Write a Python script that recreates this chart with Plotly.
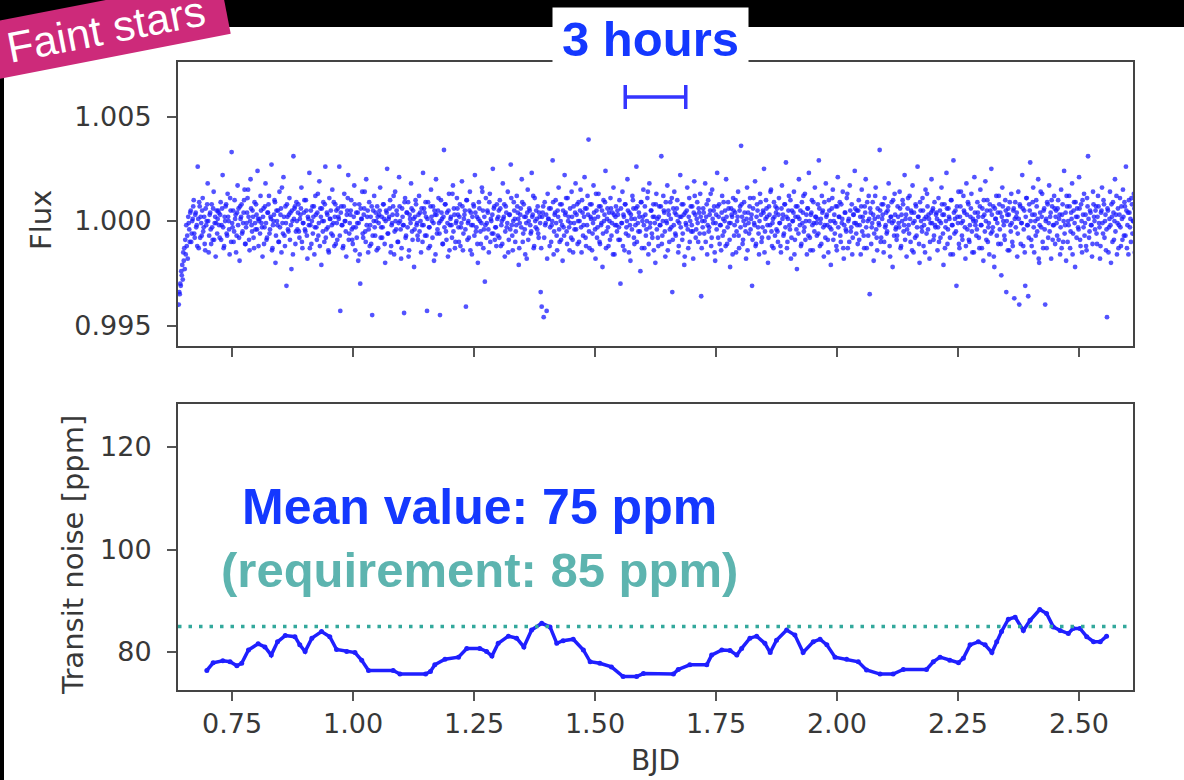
import plotly.graph_objects as go

# ---------------- data ----------------
# top panel: relative flux, in units of 1e-4 above flux_zero (two interleaved cadence sets)
flux_zero = 0.99960
flux_t0 = 0.640
flux_cadence = 0.00206
flux_rows_a = [
    [-36, -31, -27, -22, -24, -15, -19, -12, -8, -14, 3, -6, 9, -2, 5, 14, -4, 8, 2, 30, -9, 11, 6, -3, 15, 1, -7, 10, 4, 22, -11, 7, 0, 12, -5, 18, 3, -13, 9, 5],
    [8, -4, 13, 2, 26, -9, 6, 11, -2, 17, 4, -12, 9, 37, 1, -6, 14, 7, -3, 21, 10, -15, 5, 12, -1, 8, 19, -7, 3, 15, 6, -10, 24, 2, 9, -4, 13, 0, 7, 28],
    [-8, 5, 16, 3, -13, 10, 1, 22, -5, 8, 12, -2, 6, 31, -9, 4, 14, -16, 9, 2, -6, 18, 7, -11, 3, 25, -3, 11, -27, 6, -1, 15, 8, -19, 4, 35, 10, -7, 13, 0],
    [12, -4, 7, 20, -9, 3, 14, -1, 9, -14, 5, 27, 2, -7, 11, 6, -12, 16, 1, 8, -3, 23, 10, -17, 4, 13, -6, 30, 0, 7, -10, 15, 5, -2, 19, 3, -8, 12, 9, -5],
    [6, 30, -39, 11, 2, -8, 17, 4, -13, 9, 26, -2, 7, 14, -5, 1, 21, -10, 8, 3, -15, 12, -26, 5, 18, -4, 10, -1, 24, 6, -11, 13, 2, -7, -41, 9, 16, -3, 4, 11],
    [-9, 7, 20, 1, -4, 12, 5, -16, 9, 29, -2, 6, 14, -8, 3, 11, -12, 18, 0, 7, -6, 25, 4, -14, 10, 2, -40, 15, -3, 8, 13, -10, 5, 22, -1, 9, -18, 6, 12, 3],
    [-5, 16, 8, -11, 2, 27, 10, -3, 6, -39, 13, 1, -8, 19, 4, 11, -15, 7, 24, -2, 9, 3, -41, 14, 5, -7, 38, 12, -1, 8, -13, 17, 2, 6, -4, 21, 10, -9, 3, 15],
    [7, -6, 12, 1, 23, -10, 5, 9, -37, 14, 3, -4, 18, 8, -12, 2, 11, 26, -1, 6, -16, 13, 4, -7, 20, 9, 0, -25, 15, 3, 8, -11, 17, 5, -2, 29, 10, -5, 1, 12],
    [-3, 9, 14, -8, 4, 22, 6, -13, 11, 1, 18, -5, 7, 31, 2, -10, 13, 5, -1, 16, 8, -17, 3, 10, 24, -6, 12, 0, 6, -14, 19, 4, 9, -2, 27, 7, -9, 15, 1, 5],
    [11, -4, 6, -30, -37, 8, -42, 13, 3, -39, 17, 5, -8, 10, 2, 33, -12, 7, 14, -3, 9, 20, -6, 4, 12, -15, 1, 26, 8, -1, 15, 6, -10, 3, 18, -5, 11, 0, 22, 7],
    [-7, 13, 4, 19, -11, 8, 2, 25, -4, 10, 16, 43, -9, 6, 12, -2, 21, 5, -14, 9, 1, 17, -6, 11, 3, -18, 14, 7, 28, -1, 10, -8, 4, 15, -3, 8, 20, -12, 6, 2],
    [9, -5, 14, -26, 3, 18, 7, -10, 12, 1, 24, -3, 8, -15, 5, 16, 10, -7, 2, 30, 11, -1, 6, -20, 13, 4, 19, -9, 7, 0, 15, -12, 22, 3, 9, -4, 12, 6, -16, 17],
    [5, -8, 11, 2, 35, -3, 16, 8, -13, 4, 21, 9, -6, 13, 1, -30, 10, 18, -2, 7, 14, -11, 3, 26, 6, -5, 12, -17, 8, 2, 20, -9, 15, 4, -1, 11, -14, 23, 7, 0],
    [13, -6, 8, 17, -32, 4, 10, -2, 22, 6, -12, 14, 1, 9, -8, 19, 3, 11, -15, 7, 27, -4, 12, 2, -10, 16, 5, -1, 9, 24, -7, 13, 3, -18, 10, 6, 15, -3, 8, -11],
    [4, 18, -9, 11, 40, 6, -5, 13, 2, -14, 20, 8, -2, 15, 5, -27, 10, 3, 23, -7, 12, 1, -12, 17, 7, -4, 9, 29, -1, 14, 6, -16, 11, 2, 19, -8, 5, 13, -3, 8],
    [10, -6, 15, 3, -11, 21, 7, -2, 12, 32, -9, 5, 16, 0, -14, 9, 4, 18, -5, 11, -19, 6, 24, 2, -8, 13, 8, -1, 17, 4, -12, 10, 27, -4, 7, 14, -10, 3, 20, 6],
    [-3, 12, 33, -8, 5, 16, 9, -13, 2, 22, 7, -5, 14, 1, -17, 10, 19, 4, -2, 11, -10, 25, 6, 13, -6, 3, 18, -14, 8, 0, 15, -9, 5, 21, -1, 12, -4, 7, 28, 3],
    [9, -7, 14, 2, -12, 19, 6, -3, 11, 24, -9, 4, 16, -31, 8, 1, 13, -15, 5, 20, -4, 10, 3, 38, -6, 12, 7, -11, 15, 2, -2, 9, 22, -8, 6, 13, -18, 4, 17, 0],
    [-5, 11, 3, 18, -9, 7, 14, -1, 26, 5, -13, 10, 2, 16, -6, 8, 21, -11, 4, 12, -3, 30, 6, -16, 9, 1, 15, -8, 5, 19, -2, 11, 7, -14, 3, 24, 9, -5, 13, 1],
    [8, -10, 15, 4, -4, 20, 7, -17, 12, 1, 27, -7, 10, 5, -12, 14, 2, 33, -2, 9, -27, 6, 18, -9, 11, 3, -5, 16, 8, -14, 22, 0, 12, -6, 6, 17, -11, 4, 25, 2],
    [-3, 13, 6, -9, 19, 2, 10, -15, 7, 23, -5, 14, 1, -12, 9, 29, -1, 11, -18, 5, 16, 3, -7, 12, 8, -22, 20, 4, -3, 14, -30, 7, 10, -10, 2, 17, -6, 9, -33, 13],
    [6, -13, 18, -36, 11, 3, 26, -8, 9, -27, 15, 2, -32, 12, 32, -5, 7, 20, -11, 4, 14, -1, 24, -16, 8, 1, 17, -9, 10, -36, 5, 13, -4, 21, 6, -14, 11, 2, 16, -7],
    [9, -3, 14, 5, -12, 19, 7, -6, 28, 2, -15, 11, 4, 16, -9, 8, 22, -2, 13, -18, 6, 10, 1, 25, -5, 12, -11, 7, 17, 3, -8, 15, 35, -4, 9, 2, -13, 18, 6, 0],
    [11, -7, 16, 3, -14, 8, 20, -2, 12, 4, -10, -42, 9, 1, 18, -16, 6, 13, -5, 24, 7, -12, 10, 2, 15, -8, 5, 19, -3, 11, 30, -9, 8, 14, 1, -6, 12, 4, 17, -11],
]
flux_rows_b = [
    [-30, -26, -20, -17, -11, -9, -5, 2, -3, 6, 0, 8, -6, 4, 11, -2, 7, 1, -8, 5, 13, -4, 3, 9, -1, 6, -10, 2, 12, 4, -3, 8, -7, 1, 10, -5, 6, 3, -2, 9],
    [2, 7, -5, 10, 1, -8, 4, 12, -3, 6, 0, 15, -6, 3, 9, -1, 5, -11, 8, 2, -4, 11, 6, -2, 3, 14, -7, 1, 8, 19, -5, 4, 10, -1, 6, -9, 3, 12, 0, 5],
    [4, -2, 9, 1, 6, -7, 11, 3, -4, 8, 16, 0, 5, -10, 2, 7, 13, -3, 4, 9, -6, 1, 10, 20, -2, 6, -8, 3, 12, 0, 7, -5, 2, 9, -12, 5, 11, -1, 4, 8],
    [-1, 5, 10, -6, 3, 8, 0, 14, -3, 6, 2, -9, 9, 4, -2, 11, 1, 7, -5, 17, 3, -8, 6, 10, -1, 4, 12, -4, 8, 1, -11, 5, 9, 2, -3, 13, 6, -7, 3, 10],
    [5, -3, 8, 2, -9, 11, 4, -1, 7, 15, -5, 3, 9, 0, -7, 6, 12, 1, -4, 8, 3, -12, 10, 5, -2, 7, 18, -6, 2, 9, 0, -8, 6, 11, -3, 4, 1, 8, -10, 6],
    [3, 9, -4, 6, 1, 12, -7, 4, 8, -2, 5, 10, -11, 2, 7, 16, -1, 4, 9, -6, 3, 11, 0, -9, 6, 2, 13, -4, 8, 1, -13, 7, 3, 10, -5, 5, 0, 14, 2, -3],
    [7, -1, 4, 10, -6, 2, 8, 13, -3, 5, -9, 1, 11, 6, -4, 3, 9, -12, 7, 0, 15, -2, 4, 8, -7, 6, 1, 12, -5, 3, 9, -10, 5, 2, 17, -1, 7, -6, 4, 10],
    [1, 6, -8, 3, 11, -2, 7, 0, 14, -5, 4, 9, -10, 2, 6, 12, -3, 8, 1, -7, 5, 10, -1, 3, 18, -9, 6, 2, -4, 9, 0, 13, -6, 4, 7, -2, 11, 1, -8, 5],
    [6, -4, 10, 2, -7, 5, 12, -1, 8, 3, -11, 7, 0, 15, -3, 4, 9, -6, 2, 11, 5, -9, 7, 1, 13, -2, 6, -12, 3, 8, -5, 10, 2, -1, 6, 16, -8, 4, 9, 0],
    [-2, 8, 3, -9, 6, 11, -4, 2, 7, -14, 5, 10, 1, -6, 4, 13, -1, 8, 3, -10, 6, 0, 12, -5, 2, 9, -3, 7, 15, -7, 4, 1, 10, -4, 6, -11, 3, 8, 0, 12],
    [4, -6, 9, 1, 14, -3, 6, 10, -8, 2, 7, -1, 12, 5, -10, 3, 8, 0, 17, -4, 6, 11, -7, 2, 9, -2, 4, 13, -9, 5, 1, 8, -5, 10, 3, -12, 7, 2, 11, -1],
    [7, 1, -5, 10, 3, -8, 6, 12, -2, 4, 9, -11, 2, 7, 0, 14, -4, 5, 10, -6, 3, 8, -1, 13, -9, 6, 2, 11, -3, 4, 18, -7, 1, 9, -2, 6, -10, 3, 12, 0],
    [-4, 6, 2, 11, -7, 4, 9, -1, 13, 3, -10, 7, 0, 5, 15, -5, 2, 8, -3, 10, 4, -8, 6, 1, 12, -2, 7, -13, 3, 9, 0, 6, -6, 11, 2, -1, 8, 16, -4, 5],
    [3, 10, -2, 6, -9, 1, 8, 4, -6, 12, 2, -1, 7, 17, -4, 5, 9, -11, 3, 0, 11, 6, -7, 2, 8, -3, 13, 4, -8, 6, 1, 10, -5, 3, 7, -12, 9, 2, 14, -1],
    [6, -3, 9, 1, 12, -7, 4, 8, -1, 5, -10, 3, 11, 0, 7, -5, 15, 2, -8, 6, 9, -2, 4, 13, -6, 1, 8, -11, 5, 10, 2, -4, 7, 18, -1, 3, -9, 6, 11, 0],
    [-1, 7, 3, -8, 10, 5, -3, 12, 1, 6, -6, 9, 2, 14, -4, 4, 8, -12, 6, 0, 11, -2, 5, 9, -7, 3, 16, 1, -5, 7, 10, -3, 4, -10, 8, 2, 13, -1, 6, 3],
    [5, -2, 10, 3, -7, 8, 1, 13, -4, 6, 2, -11, 9, 4, 0, 15, -5, 7, 3, -8, 11, 1, 6, -3, 12, 5, -9, 2, 8, -1, 17, 4, -6, 9, 1, -12, 7, 3, 10, -2],
    [2, 9, -5, 6, 11, -1, 4, -9, 8, 1, 13, -3, 5, 10, -7, 3, 7, -2, 16, 0, -10, 6, 2, 9, -4, 5, 12, -6, 1, 8, -1, 11, 4, -13, 6, 3, 14, -3, 7, 1],
    [-3, 6, 1, 10, -8, 4, 12, 2, -5, 7, 0, 15, -2, 5, 9, -10, 3, 8, -4, 11, 1, 6, -7, 13, 4, -1, 9, 2, -11, 6, 17, 0, 5, -6, 8, 3, 10, -3, 2, 7],
    [5, 1, -6, 9, 3, 12, -2, 7, -9, 4, 10, 0, 6, -4, 14, 2, -12, 8, 5, -1, 11, 3, -7, 6, 18, -3, 4, 9, 1, -8, 7, 13, -5, 2, 10, -1, 5, -11, 8, 4],
    [0, 8, -4, 11, 2, -9, 6, 14, -1, 4, 9, -6, 3, 12, -2, 7, 1, -13, 10, 5, -3, 8, 16, 0, -7, 6, 11, 2, -5, 9, 4, -10, 7, 13, -1, 3, -8, 10, 5, 1],
    [8, -2, 5, 12, -7, 3, 10, 0, -11, 6, 15, 2, -4, 9, 4, -8, 13, 1, 7, -3, 11, 5, -14, 2, 18, 6, -6, 9, 0, 4, -9, 12, 3, -1, 8, 14, -5, 2, 10, 6],
    [3, 10, -5, 7, 1, -9, 12, 4, -2, 8, 16, -6, 2, 11, -1, 5, -12, 9, 3, 13, -4, 6, 0, 10, -8, 4, 14, 1, -3, 7, -10, 11, 5, -1, 8, 2, -7, 12, 4, 9],
    [-2, 6, 11, 1, -8, 9, 3, 14, -4, 7, 0, 10, -11, 5, 2, 12, -6, 8, 4, -1, 16, 3, -9, 7, 1, 11, -5, 6, 13, -3, 9, 2, -12, 8, 5, 15, -2, 4, 10, 1],
]

# bottom panel: transit noise [ppm] vs BJD
noise_t = [0.698, 0.711, 0.731, 0.746, 0.760, 0.770, 0.784, 0.804, 0.818, 0.831,
           0.844, 0.860, 0.880, 0.890, 0.901, 0.915, 0.935, 0.952, 0.966, 0.987,
           1.004, 1.018, 1.032, 1.083, 1.097, 1.150, 1.160, 1.169, 1.190, 1.218,
           1.235, 1.262, 1.276, 1.287, 1.300, 1.321, 1.338, 1.353, 1.369, 1.390,
           1.407, 1.421, 1.434, 1.455, 1.476, 1.490, 1.510, 1.534, 1.558, 1.586,
           1.600, 1.662, 1.672, 1.696, 1.731, 1.741, 1.762, 1.779, 1.793, 1.803,
           1.820, 1.834, 1.851, 1.862, 1.875, 1.896, 1.913, 1.930, 1.951, 1.965,
           1.979, 1.996, 2.020, 2.044, 2.061, 2.089, 2.116, 2.137, 2.185, 2.199,
           2.213, 2.233, 2.251, 2.261, 2.275, 2.292, 2.306, 2.320, 2.330, 2.340,
           2.354, 2.368, 2.385, 2.399, 2.419, 2.433, 2.447, 2.461, 2.478, 2.488,
           2.502, 2.516, 2.530, 2.544, 2.557]
noise_ppm = [76.4, 77.9, 78.3, 78.1, 77.3, 77.8, 80.4, 81.6, 81.0, 79.4,
             82.0, 83.2, 83.0, 81.4, 80.1, 82.7, 84.0, 83.0, 80.5, 80.1,
             79.9, 78.4, 76.4, 76.4, 75.7, 75.7, 76.2, 77.5, 78.6, 79.0,
             80.7, 80.7, 80.1, 79.2, 81.7, 83.1, 82.7, 81.0, 84.3, 85.6,
             84.9, 81.7, 82.2, 82.5, 80.4, 78.1, 77.8, 77.1, 75.2, 75.2,
             75.8, 75.7, 76.6, 77.5, 77.5, 79.4, 80.4, 80.3, 79.4, 80.7,
             82.7, 83.1, 81.7, 79.9, 82.3, 84.3, 83.3, 79.9, 82.0, 82.5,
             81.4, 79.0, 78.6, 78.1, 76.5, 75.7, 75.7, 76.6, 76.6, 78.1,
             79.0, 78.4, 77.9, 78.8, 81.4, 82.0, 81.4, 79.9, 82.0, 84.0,
             86.4, 86.8, 84.2, 86.2, 88.3, 87.5, 84.9, 84.2, 83.6, 84.6,
             84.6, 83.0, 82.0, 82.0, 83.1]

requirement_ppm = 85
bar_center = 1.625        # BJD
bar_length = 0.125        # 3 hours in days
bar_level = 1.00593       # flux level of the scale bar

x_ticks = [0.75, 1.00, 1.25, 1.50, 1.75, 2.00, 2.25, 2.50]
x_ticktext = ["0.75", "1.00", "1.25", "1.50", "1.75", "2.00", "2.25", "2.50"]
flux_ticks = [0.995, 1.000, 1.005]
flux_ticktext = ["0.995", "1.000", "1.005"]
noise_ticks = [80, 100, 120]
noise_ticktext = ["80", "100", "120"]

# ---------------- build ----------------
dev_a = [v for row in flux_rows_a for v in row]
dev_b = [v for row in flux_rows_b for v in row]
flux_t = [flux_t0 + i * flux_cadence for i in range(len(dev_a))] + \
         [flux_t0 + (i + 0.5) * flux_cadence for i in range(len(dev_b))]
flux = [flux_zero + v * 1e-4 for v in dev_a + dev_b]

W, H = 1184, 780
ML, MR, MT, MB = 178, 51, 62, 90
PW, PH = W - ML - MR, H - MT - MB


def px(xp):
    return (xp - ML) / PW


def py(yp):
    return (H - MB - yp) / PH


BLUE = "#1f1fff"
TEXT_BLUE = "#1438ff"
TEAL_TEXT = "#5db4af"
TEAL_LINE = "#33a89c"
AX = "#444444"
GRAY_TXT = "#383838"
TICKFONT = dict(family="DejaVu Sans", size=27, color=GRAY_TXT)

fig = go.Figure()
fig.add_trace(go.Scatter(
    x=flux_t, y=flux, mode="markers",
    marker=dict(size=4.8, color="rgba(25,25,255,0.75)", line=dict(width=0)),
    xaxis="x", yaxis="y", hoverinfo="skip"))
fig.add_trace(go.Scatter(
    x=[bar_center], y=[bar_level], mode="markers",
    marker=dict(size=1, color="rgba(0,0,0,0)"),
    error_x=dict(type="data", array=[bar_length / 2], thickness=3.5, width=12,
                 color="#3535ff"),
    xaxis="x", yaxis="y", hoverinfo="skip"))
fig.add_trace(go.Scatter(
    x=noise_t, y=noise_ppm, mode="lines+markers",
    line=dict(color=BLUE, width=3.5),
    marker=dict(size=5, color=BLUE),
    xaxis="x2", yaxis="y2", hoverinfo="skip"))

axis_common = dict(showline=True, mirror=True, linecolor=AX, linewidth=2,
                   ticks="outside", ticklen=9, tickwidth=2, tickcolor="#555555",
                   showgrid=False, zeroline=False, tickfont=TICKFONT)
xr = [0.6384, 2.6116]

fig.update_layout(
    width=W, height=H,
    margin=dict(l=ML, r=MR, t=MT, b=MB),
    paper_bgcolor="white", plot_bgcolor="white",
    showlegend=False,
    xaxis=dict(domain=[0, 1], anchor="y", range=xr, tickvals=x_ticks,
               showticklabels=False, **axis_common),
    yaxis=dict(domain=[py(346), 1], anchor="x", range=[0.99402, 1.00761],
               tickvals=flux_ticks, ticktext=flux_ticktext,
               ticklabelstandoff=10, **axis_common),
    xaxis2=dict(domain=[0, 1], anchor="y2", range=xr, tickvals=x_ticks,
                ticktext=x_ticktext, ticklabelstandoff=0, **axis_common),
    yaxis2=dict(domain=[0, py(404)], anchor="x2", range=[72.59, 128.39],
                tickvals=noise_ticks, ticktext=noise_ticktext,
                ticklabelstandoff=10, **axis_common),
)

shapes = [
    # black top band and left strip (photo frame)
    dict(type="rect", xref="paper", yref="paper", x0=px(-20), x1=px(W + 20),
         y0=py(27), y1=py(-20), fillcolor="black", line=dict(width=0), layer="above"),
    dict(type="rect", xref="paper", yref="paper", x0=px(-20), x1=px(4),
         y0=py(H + 20), y1=py(27), fillcolor="black", line=dict(width=0), layer="above"),
    # requirement line
    dict(type="line", xref="paper", yref="y2", x0=0, x1=1,
         y0=requirement_ppm, y1=requirement_ppm,
         line=dict(color=TEAL_LINE, width=3.5, dash="3.5px,7px"), layer="above"),
]
fig.update_layout(shapes=shapes)


def ann(text, xp, yp, **kw):
    d = dict(text=text, x=px(xp), y=py(yp), xref="paper", yref="paper",
             xanchor="center", yanchor="middle", showarrow=False)
    d.update(kw)
    return d


annotations = [
    ann("Flux", 41, 220, textangle=-90,
        font=dict(family="DejaVu Sans", size=29, color=GRAY_TXT)),
    ann("Transit noise [ppm]", 73, 555, textangle=-90,
        font=dict(family="DejaVu Sans", size=29, color=GRAY_TXT)),
    ann("BJD", 655, 760, font=dict(family="DejaVu Sans", size=28, color=GRAY_TXT)),
    ann("<b>3 hours</b>", 650, 39, width=195, height=62, bgcolor="white", borderpad=0,
        font=dict(family="Liberation Sans", size=49, color=TEXT_BLUE)),
    ann("<b>Mean value: 75 ppm</b>", 479, 507,
        font=dict(family="Liberation Sans", size=50, color=TEXT_BLUE)),
    ann("<b>(requirement: 85 ppm)</b>", 479, 570,
        font=dict(family="Liberation Sans", size=49, color=TEAL_TEXT)),
    ann("Faint stars", 106, 29, textangle=-11, bgcolor="#cd2a7a", borderpad=0,
        width=242, height=56,
        font=dict(family="Liberation Sans", size=43, color="white")),
]
fig.update_layout(annotations=annotations)

fig.write_html("out.html", config={"displayModeBar": False},
               post_script="document.body.style.margin='0';")
